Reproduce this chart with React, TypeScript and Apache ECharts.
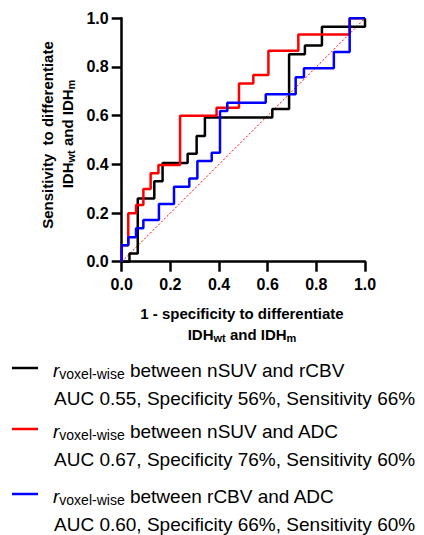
import React, { useEffect, useRef } from "react";
import * as echarts from "echarts";

const xTicks = [0, 0.2, 0.4, 0.6, 0.8, 1.0];

const blackFpr = [0, 0.032, 0.066, 0.134, 0.168, 0.271, 0.308, 0.342, 0.619, 0.688, 0.753, 0.823, 1];
const blackTpr = [0, 0.034, 0.26, 0.331, 0.405, 0.444, 0.516, 0.592, 0.627, 0.852, 0.888, 0.965, 1];

const redFpr = [0, 0, 0.027, 0.059, 0.089, 0.119, 0.151, 0.24, 0.39, 0.482, 0.541, 0.603, 0.726, 0.937, 1];
const redTpr = [0, 0.068, 0.199, 0.233, 0.299, 0.363, 0.397, 0.6, 0.633, 0.732, 0.767, 0.867, 0.933, 1, 1];

const blueFpr = [0, 0, 0.027, 0.059, 0.089, 0.153, 0.215, 0.278, 0.311, 0.37, 0.404, 0.434, 0.592, 0.715, 0.749, 0.872, 0.937, 1];
const blueTpr = [0, 0.068, 0.1, 0.137, 0.171, 0.237, 0.308, 0.342, 0.414, 0.448, 0.619, 0.653, 0.688, 0.758, 0.795, 0.862, 1, 1];

const refFpr = [0, 1];
const refTpr = [0, 1];

const legendPairs = ["between nSUV and rCBV", "between nSUV and ADC", "between rCBV and ADC"];
const legendStats = [
  "AUC 0.55, Specificity 56%, Sensitivity 66%",
  "AUC 0.67, Specificity 76%, Sensitivity 60%",
  "AUC 0.60, Specificity 66%, Sensitivity 60%",
];
const legendColors = ["#000000", "#ff0000", "#0000ff"];

const FONT = "'Liberation Sans', Arial, sans-serif";

const zip = (a: number[], b: number[]) => a.map((v, i) => [v, b[i]]);

export default function App() {
  const ref = useRef<HTMLDivElement>(null);
  useEffect(() => {
    if (!ref.current) return;
    const chart = echarts.init(ref.current, null, { renderer: "svg" });
    const legendTop = [370, 431, 496];
    const graphic: any[] = [];
    legendTop.forEach((y, i) => {
      graphic.push({
        type: "line",
        shape: { x1: 12, y1: y - 2, x2: 38, y2: y - 2 },
        style: { stroke: legendColors[i], lineWidth: 2.5 },
      });
      graphic.push({
        type: "text",
        x: 53,
        y: y,
        style: {
          text: `{i|r}{s|voxel-wise}{n| ${legendPairs[i]}}`,
          verticalAlign: "middle",
          fill: "#000",
          rich: {
            i: { fontFamily: FONT, fontSize: 19, fontStyle: "italic", lineHeight: 22, fill: "#000" },
            s: { fontFamily: FONT, fontSize: 14, lineHeight: 12, verticalAlign: "bottom", fill: "#000" },
            n: { fontFamily: FONT, fontSize: 19, lineHeight: 22, fill: "#000" },
          },
        },
      });
      graphic.push({
        type: "text",
        x: 54,
        y: y + 28,
        style: {
          text: legendStats[i],
          fontFamily: FONT,
          fontSize: 19,
          verticalAlign: "middle",
          fill: "#000",
        },
      });
    });
    const nameRich = {
      b: { fontFamily: FONT, fontSize: 15, fontWeight: "bold", lineHeight: 18, fill: "#000" },
      s: { fontFamily: FONT, fontSize: 11, fontWeight: "bold", lineHeight: 10, verticalAlign: "bottom", fill: "#000" },
    };
    // x axis name
    graphic.push({
      type: "text",
      x: 242,
      y: 313,
      style: {
        text: "1 - specificity to differentiate",
        fontFamily: FONT,
        fontSize: 15,
        fontWeight: "bold",
        align: "center",
        verticalAlign: "middle",
        fill: "#000",
      },
    });
    graphic.push({
      type: "text",
      x: 242,
      y: 334,
      style: {
        text: "{b|IDH}{s|wt}{b| and IDH}{s|m}",
        align: "center",
        verticalAlign: "middle",
        rich: nameRich,
      },
    });
    // y axis name
    graphic.push({
      type: "text",
      x: 47,
      y: 135,
      rotation: Math.PI / 2,
      style: {
        text: "Sensitivity  to differentiate",
        fontFamily: FONT,
        fontSize: 15,
        fontWeight: "bold",
        align: "center",
        verticalAlign: "middle",
        fill: "#000",
      },
    });
    graphic.push({
      type: "text",
      x: 67,
      y: 134,
      rotation: Math.PI / 2,
      style: {
        text: "{b|IDH}{s|wt}{b| and IDH}{s|m}",
        align: "center",
        verticalAlign: "middle",
        rich: nameRich,
      },
    });

    const axisCommon = {
      type: "value" as const,
      min: 0,
      max: 1,
      interval: 0.2,
      splitLine: { show: false },
      axisLine: { show: true, lineStyle: { color: "#000", width: 2.5 } },
      axisTick: { show: true, length: 10, lineStyle: { color: "#000", width: 2.5 } },
    };
    const lineSeries = (data: number[][], color: string, z: number) => ({
      type: "line",
      step: "end",
      data,
      showSymbol: false,
      clip: false,
      z,
      lineStyle: { color, width: 2.5 },
      itemStyle: { color },
    });

    chart.setOption({
      animation: false,
      grid: { left: 121.7, right: 59, top: 18.3, bottom: 273.3 },
      xAxis: {
        ...axisCommon,
        axisLabel: {
          margin: 15,
          fontFamily: FONT,
          fontSize: 16,
          fontWeight: "bold",
          color: "#000",
          formatter: (v: number) => v.toFixed(1),
        },
      },
      yAxis: {
        ...axisCommon,
        axisLabel: {
          margin: 13,
          fontFamily: FONT,
          fontSize: 16,
          fontWeight: "bold",
          color: "#000",
          formatter: (v: number) => v.toFixed(1),
        },
      },
      series: [
        {
          type: "line",
          data: zip(refFpr, refTpr),
          showSymbol: false,
          clip: false,
          z: 1,
          lineStyle: { color: "#ff0000", width: 1, type: [2, 2] },
        },
        lineSeries(zip(blackFpr, blackTpr), "#000000", 2),
        lineSeries(zip(redFpr, redTpr), "#ff0000", 3),
        lineSeries(zip(blueFpr, blueTpr), "#0000ff", 4),
      ],
      graphic,
    });
    return () => chart.dispose();
  }, []);
  return <div ref={ref} style={{ width: 424, height: 535, position: "absolute", left: 0, top: 0 }} />;
}
